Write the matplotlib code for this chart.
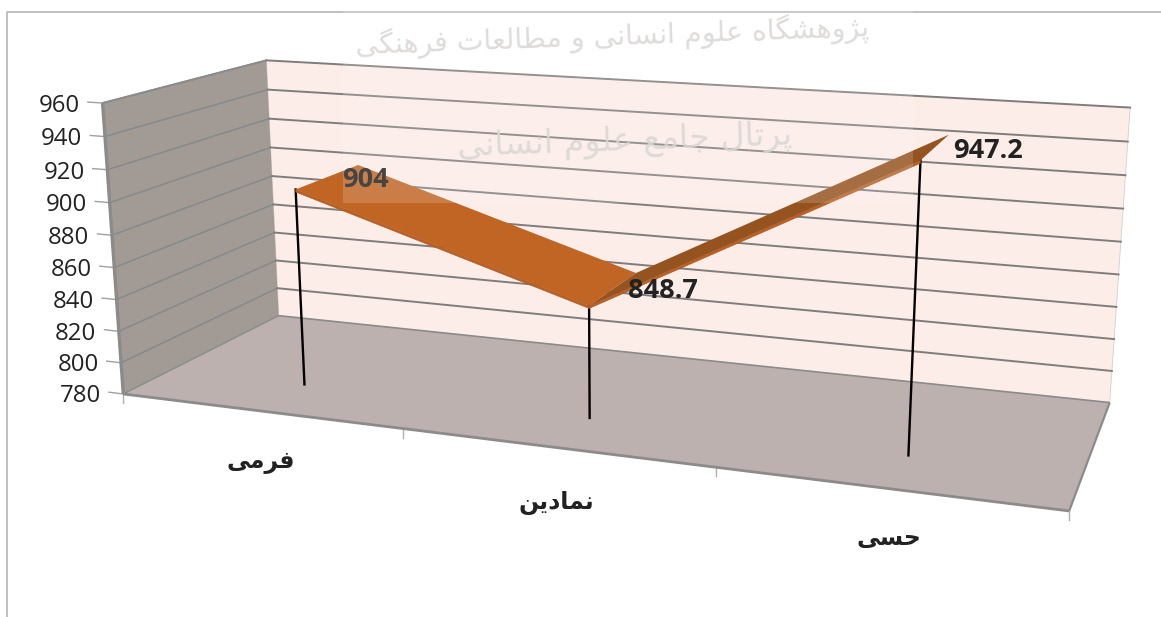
import numpy as np
import matplotlib
matplotlib.use("Agg")
import matplotlib.pyplot as plt
from matplotlib.patches import Polygon, Rectangle

categories = ["فرمی", "نمادین", "حسی"]
values = [904, 848.7, 947.2]
value_labels = ["904", "848.7", "947.2"]
value_ticks = [780, 800, 820, 840, 860, 880, 900, 920, 940, 960]
watermark_top = "پژوهشگاه علوم انسانی و مطالعات فرهنگی"
watermark_low = "پرتال جامع علوم انسانی"

W, H = 1161, 617
VMIN, VMAX = value_ticks[0], value_ticks[-1]
DROP_DEPTH = 0.29
BACK_DEPTH = 0.72

# box corner (u, depth, h) -> picture pixel, for the camera fit
CAMERA = [
    ((0, 0, 0), (124, 393)), ((0, 0, 1), (102, 103)),
    ((0, 1, 0), (278, 317)), ((0, 1, 1), (267, 60)),
    ((1, 1, 0), (1110, 401)), ((1, 1, 1), (1130, 108)),
    ((1, 0, 0), (1069, 512)),
    ((1 / 3, 0, 0), (403, 428)), ((2 / 3, 0, 0), (716, 468)),
]

# isolated, final, initial, medial
FORMS = {
    "ا": "\ufe8d\ufe8e", "د": "\ufea9\ufeaa", "ر": "\ufead\ufeae", "ژ": "\ufb8a\ufb8b", "و": "\ufeed\ufeee",
    "پ": "\ufb56\ufb57\ufb58\ufb59", "ت": "\ufe95\ufe96\ufe97\ufe98", "ج": "\ufe9d\ufe9e\ufe9f\ufea0",
    "ح": "\ufea1\ufea2\ufea3\ufea4", "س": "\ufeb1\ufeb2\ufeb3\ufeb4", "ش": "\ufeb5\ufeb6\ufeb7\ufeb8",
    "ط": "\ufec1\ufec2\ufec3\ufec4", "ع": "\ufec9\ufeca\ufecb\ufecc", "ف": "\ufed1\ufed2\ufed3\ufed4",
    "گ": "\ufb92\ufb93\ufb94\ufb95", "ل": "\ufedd\ufede\ufedf\ufee0", "م": "\ufee1\ufee2\ufee3\ufee4",
    "ن": "\ufee5\ufee6\ufee7\ufee8", "ه": "\ufee9\ufeea\ufeeb\ufeec", "ی": "\ufbfc\ufbfd\ufbfe\ufbff",
}


def shape(text):
    # matplotlib does no arabic joining, so pick the forms by hand
    out = []
    for i, c in enumerate(text):
        if c not in FORMS:
            out.append(c)
            continue
        before = i > 0 and text[i - 1] in FORMS and len(FORMS[text[i - 1]]) == 4
        after = i + 1 < len(text) and text[i + 1] in FORMS and len(FORMS[c]) == 4
        idx = (3 if after else 1) if before else (2 if after else 0)
        out.append(FORMS[c][idx])
    return "".join(out)[::-1]


def fit_camera():
    A = []
    for (X, Y, Z), (x, y) in CAMERA:
        A.append([X, Y, Z, 1, 0, 0, 0, 0, -x * X, -x * Y, -x * Z, -x])
        A.append([0, 0, 0, 0, X, Y, Z, 1, -y * X, -y * Y, -y * Z, -y])
    return np.linalg.svd(np.array(A, float))[2][-1].reshape(3, 4)


P = fit_camera()


def project(u, d, h):
    p = P @ np.array([u, d, h, 1.0])
    return p[0] / p[2], p[1] / p[2]


def hgt(v):
    return (v - VMIN) / (VMAX - VMIN)


fig = plt.figure(figsize=(W / 100, H / 100), dpi=100)
ax = fig.add_axes([0, 0, 1, 1])
ax.set_xlim(0, W)
ax.set_ylim(H, 0)
ax.axis("off")

# chart frame
ax.plot([7, 7, W], [H, 12, 12], color="#b4b4b4", lw=1.2, zorder=1)

# walls and floor
wall = [project(0, 1, 0), project(0, 1, 1), project(1, 1, 1), project(1, 1, 0)]
ax.add_patch(Polygon(wall, fc="#fcede8", ec="#d0d0d0", lw=0.6, zorder=2))
side = [project(0, 0, 0), project(0, 0, 1), project(0, 1, 1), project(0, 1, 0)]
ax.add_patch(Polygon(side, fc="#a29a94", ec="none", zorder=2))
floor = [project(0, 0, 0), project(1, 0, 0), project(1, 1, 0), project(0, 1, 0)]
ax.add_patch(Polygon(floor, fc="#bcb1ae", ec="none", zorder=3))

# gridlines, skip the floor line on the base
for t in value_ticks:
    h = hgt(t)
    a, b, c = project(0, 0, h), project(0, 1, h), project(1, 1, h)
    if t != VMIN:
        ax.plot([a[0], b[0]], [a[1], b[1]], color="#858a8c", lw=1.1, zorder=3)
        ax.plot([b[0], c[0]], [b[1], c[1]], color="#7f7d7c", lw=1.4, zorder=3)
    e = project(-0.018, 0, h)
    ax.plot([e[0], a[0]], [e[1], a[1]], color="#a0a0a0", lw=1.0, zorder=3)
    ax.text(e[0] - 8, e[1] + 4, str(t), ha="right", va="center", family="Open Sans",
            fontsize=17.3, color="#222222", zorder=8)

# box edges
for p0, p1, lw in [((0, 0, 0), (0, 0, 1), 2.4), ((0, 0, 0), (1, 0, 0), 2.0), ((0, 0, 0), (0, 1, 0), 1.0),
                   ((1, 0, 0), (1, 1, 0), 1.6), ((0, 1, 0), (1, 1, 0), 1.2), ((0, 0, 1), (0, 1, 1), 1.4)]:
    a, b = project(*p0), project(*p1)
    ax.plot([a[0], b[0]], [a[1], b[1]], color="#8b8b8b", lw=lw, zorder=4, solid_capstyle="butt")

# category ticks
for u in [0, 1 / 3, 2 / 3, 1]:
    a = project(u, 0, 0)
    ax.plot([a[0], a[0]], [a[1], a[1] + 9], color="#b0b0b0", lw=1.0, zorder=3)

n = len(categories)
us = [(i + 0.5) / n for i in range(n)]

# drop lines
for u, v in zip(us, values):
    a, b = project(u, DROP_DEPTH, hgt(v)), project(u, DROP_DEPTH, 0)
    ax.plot([a[0], b[0]], [a[1], b[1]], color="black", lw=1.7, zorder=5)

# ribbon: thin lower edge first, then the top face of every leg
thick = 0.009
face_cols = ["#c06524", "#94531f"]
for i in range(n - 1):
    u0, u1 = us[i], us[i + 1]
    h0, h1 = hgt(values[i]), hgt(values[i + 1])
    edge = [project(u0, DROP_DEPTH, h0), project(u1, DROP_DEPTH, h1),
            project(u1, DROP_DEPTH, h1 - thick), project(u0, DROP_DEPTH, h0 - thick)]
    ax.add_patch(Polygon(edge, fc="#bb6126", ec="#a9561f", lw=0.4, zorder=6))
    top = [project(u0, DROP_DEPTH, h0), project(u1, DROP_DEPTH, h1),
           project(u1, BACK_DEPTH, h1), project(u0, BACK_DEPTH, h0)]
    ax.add_patch(Polygon(top, fc=face_cols[i], ec="none", zorder=6 + i * 0.1))

# data labels, next to the back end of the ribbon
for u, v, s, off in zip(us, values, value_labels, [(-16, 15), (-8, 18), (4, 16)]):
    x, y = project(u, BACK_DEPTH, hgt(v))
    ax.text(x + off[0], y + off[1], s, ha="left", va="center", family="Open Sans", weight="bold",
            fontsize=19.5, color="#222222", zorder=8)

# category labels
for u, cat, off in zip(us, categories, [(1, 51), (1, 56), (2, 50)]):
    x, y = project(u, 0, 0)
    ax.text(x + off[0], y + off[1], shape(cat), ha="center", va="center", family="DejaVu Sans",
            weight="bold", fontsize=17, color="#222222", zorder=8)

# scanned watermark laid over the chart
ax.add_patch(Rectangle((343, 0), 570, 203, fc="white", alpha=0.16, ec="none", zorder=9))
ax.text(612, 36, shape(watermark_top), ha="center", va="center", family="DejaVu Sans", fontsize=20.5,
        color="#d9d6d4", alpha=0.85, rotation=2, zorder=10)
ax.text(625, 142, shape(watermark_low), ha="center", va="center", family="DejaVu Sans", fontsize=24,
        color="#d9d6d4", alpha=0.85, rotation=2, zorder=10)

fig.savefig("out.png", dpi=100)
